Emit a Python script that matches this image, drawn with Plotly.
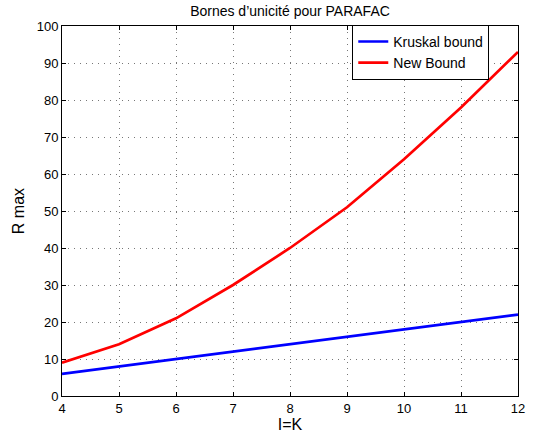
import plotly.graph_objects as go

ik = [4, 5, 6, 7, 8, 9, 10, 11, 12]
kruskal = [6, 8, 10, 12, 14, 16, 18, 20, 22]
new_bound = [9, 14, 21, 30, 40, 51, 64, 78, 93]

FONT = "Liberation Sans, Arial, Helvetica, sans-serif"
W, H = 538, 439

fig = go.Figure()
fig.add_trace(go.Scatter(x=ik, y=kruskal, mode="lines", name="Kruskal bound",
                         line=dict(color="#0000ff", width=2.7)))
fig.add_trace(go.Scatter(x=ik, y=new_bound, mode="lines", name="New Bound",
                         line=dict(color="#ff0000", width=2.7)))

axis_common = dict(
    showline=True, linecolor="black", linewidth=1, mirror="ticks",
    ticks="inside", ticklen=4, tickcolor="black",
    showgrid=True, gridcolor="#777777", griddash="1px,5px", gridwidth=1,
    zeroline=False, automargin=False,
    tickfont=dict(family=FONT, size=13, color="black"),
)

fig.update_layout(
    width=W, height=H,
    margin=dict(l=62, r=20, t=26, b=43),
    paper_bgcolor="white", plot_bgcolor="white",
    title=dict(text="Bornes d’unicité pour PARAFAC", x=0.5, xanchor="center",
               xref="paper", yref="container", y=1 - 11 / H, yanchor="middle",
               font=dict(family=FONT, size=14, color="black")),
    xaxis=dict(range=[4, 12], tickvals=ik, **axis_common,
               title=dict(text="I=K", font=dict(family=FONT, size=16, color="black"), standoff=0)),
    yaxis=dict(range=[0, 100], dtick=10, **axis_common,
               title=dict(text="R max", font=dict(family=FONT, size=16, color="black"), standoff=8)),
    legend=dict(x=0.937, y=1.003, xanchor="right", yanchor="top",
                bgcolor="white", bordercolor="black", borderwidth=1,
                font=dict(family=FONT, size=14, color="black"),
                tracegroupgap=0),
    showlegend=True,
)

fig.write_html("out.html", config={"displayModeBar": False},
               post_script="document.body.style.margin='0';document.body.style.overflow='hidden';")
